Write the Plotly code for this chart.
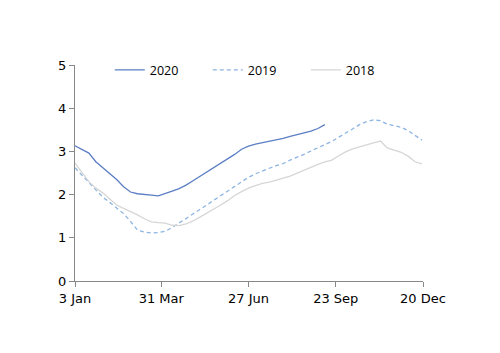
import plotly.graph_objects as go

days = list(range(0, 351, 7))

y2020 = [3.13, 3.05, 2.96, 2.76, 2.62, 2.50, 2.35, 2.18, 2.06, 2.02, 2.01, 1.99, 1.97,
         2.02, 2.08, 2.14, 2.22, 2.32, 2.42, 2.52, 2.63, 2.74, 2.84, 2.93, 3.05, 3.12,
         3.17, 3.20, 3.23, 3.26, 3.30, 3.35, 3.39, 3.43, 3.47, 3.53, 3.62]

y2019 = [2.62, 2.45, 2.28, 2.10, 1.94, 1.82, 1.70, 1.56, 1.38, 1.18, 1.13, 1.11, 1.12,
         1.15, 1.24, 1.34, 1.45, 1.55, 1.65, 1.76, 1.87, 1.98, 2.09, 2.20, 2.30, 2.40,
         2.48, 2.55, 2.61, 2.67, 2.72, 2.80, 2.86, 2.93, 3.01, 3.08, 3.16, 3.23, 3.33,
         3.42, 3.52, 3.62, 3.69, 3.73, 3.71, 3.63, 3.59, 3.56, 3.48, 3.38, 3.26]

y2018 = [2.73, 2.52, 2.30, 2.15, 2.04, 1.90, 1.76, 1.68, 1.61, 1.53, 1.44, 1.37, 1.35,
         1.34, 1.29, 1.28, 1.32, 1.39, 1.48, 1.57, 1.66, 1.76, 1.86, 1.98, 2.07, 2.15,
         2.21, 2.26, 2.29, 2.33, 2.38, 2.43, 2.50, 2.57, 2.63, 2.70, 2.76, 2.80, 2.90,
         2.99, 3.06, 3.10, 3.15, 3.20, 3.24, 3.08, 3.03, 2.98, 2.89, 2.76, 2.71]

tick_vals = [0, 87, 175, 263, 351]
tick_text = ["3 Jan", "31 Mar", "27 Jun", "23 Sep", "20 Dec"]

fig = go.Figure()
fig.add_trace(go.Scatter(x=days[:len(y2020)], y=y2020, mode="lines", name="2020",
                         line=dict(color="#5b7ec4", width=1.3)))
fig.add_trace(go.Scatter(x=days[:len(y2019)], y=y2019, mode="lines", name="2019",
                         line=dict(color="#8db4e2", width=1.3, dash="4px,3px")))
fig.add_trace(go.Scatter(x=days[:len(y2018)], y=y2018, mode="lines", name="2018",
                         line=dict(color="#d6d6d6", width=1.3)))

fig.update_layout(
    width=500, height=353,
    margin=dict(l=75, r=77, t=65, b=72),
    paper_bgcolor="white", plot_bgcolor="white",
    font=dict(family="DejaVu Sans", size=13, color="#000"),
    showlegend=True,
    legend=dict(orientation="h", x=0.10, xanchor="left", y=1.045, yanchor="top",
                bgcolor="rgba(0,0,0,0)", font=dict(family="Open Sans", size=12.5),
                itemwidth=30, entrywidth=53, entrywidthmode="pixels",
                tracegroupgap=0),
)
fig.update_xaxes(range=[0, 351], tickvals=tick_vals, ticktext=tick_text,
                 showgrid=False, zeroline=False, showline=True, linecolor="#888",
                 linewidth=1, ticks="outside", ticklen=5, tickcolor="#888")
fig.update_yaxes(range=[0, 5], tickvals=[0, 1, 2, 3, 4, 5],
                 showgrid=False, zeroline=False, showline=True, linecolor="#888",
                 linewidth=1, ticks="outside", ticklen=5, tickcolor="#888")

fig.write_html("out.html")
